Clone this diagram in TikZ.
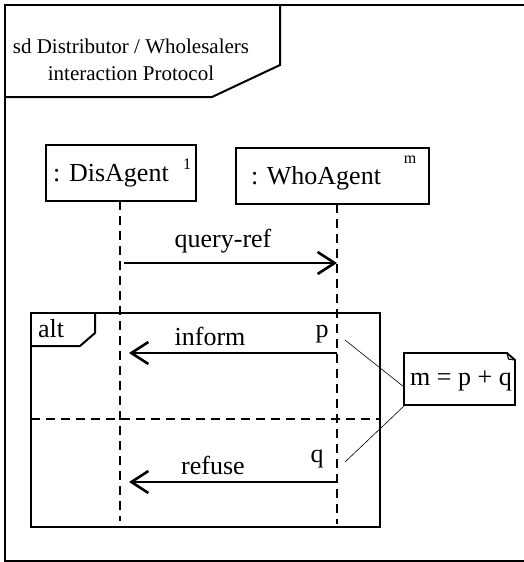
\documentclass[tikz,border=0pt]{standalone}
\usepackage{fontspec}
\setmainfont{Liberation Serif}
\usetikzlibrary{arrows.meta}
\begin{document}
\begin{tikzpicture}[x=1pt,y=-1pt,
  big/.style={font=\fontsize{26}{30}\selectfont, inner sep=0pt},
  small/.style={font=\fontsize{21}{27}\selectfont, inner sep=0pt, align=center},
  tiny/.style={font=\fontsize{16}{18}\selectfont, inner sep=0pt},
  framel/.style={line width=2pt, line join=miter},
  agentbox/.style={draw, line width=2pt, minimum height=56pt, inner sep=0pt},
  life/.style={line width=1.6pt, dash pattern=on 9pt off 6pt},
  msg/.style={line width=2.6pt, -{Straight Barb[length=17pt, width=22pt, line width=2.6pt]}},
  notelink/.style={line width=0.6pt}
]
\useasboundingbox (0,0) rectangle (524,562);
\clip (0,0) rectangle (524,562);

% outer frame
\draw[framel] (530,5) -- (5,5) -- (5,561) -- (530,561);
% title pentagon
\draw[framel] (5,97) -- (212,97) -- (280,65) -- (280,5);
\node[small] (title) at (131,60) {sd Distributor / Wholesalers\\interaction Protocol};

% lifeline heads
\node[agentbox, minimum width=150pt] (dis) at (121,173) {};
\node[big] (disl) at (111,176) {: DisAgent};
\node[tiny] (dism) at (187,164) {1};
\node[agentbox, minimum width=193pt] (who) at (332.5,175.5) {};
\node[big] (whol) at (316,178) {: WhoAgent};
\node[tiny] (whom) at (410,160) {m};

% lifelines
\coordinate (disTop) at (120,201);
\coordinate (disBot) at (120,521);
\coordinate (whoTop) at (337,204);
\coordinate (whoBot) at (337,524);
\draw[life] (disTop) -- (disBot);
\draw[life] (whoTop) -- (whoBot);

% query-ref
\coordinate (q1) at (124,263);
\coordinate (q2) at (337,263);
\draw[msg] (q1) -- (q2);
\node[big] (qlab) at (223,241) {query-ref};

% alt fragment
\draw[framel] (31,313) rectangle (380,527);
\draw[framel] (31,346) -- (80,346) -- (95,333) -- (95,313);
\node[big] (altl) at (51,329) {alt};
\draw[life] (31,419) -- (380,419);

% inform
\coordinate (i1) at (337,353);
\coordinate (i2) at (129,353);
\draw[msg] (i1) -- (i2);
\node[big] (ilab) at (210,336) {inform};
\node[big] (pl) at (322,334) {p};

% refuse
\coordinate (r1) at (337,482);
\coordinate (r2) at (129,482);
\draw[msg] (r1) -- (r2);
\node[big] (rlab) at (213,465) {refuse};
\node[big] (ql) at (317,459) {q};

% note
\draw[line width=1.8pt, line join=miter] (404,353) -- (507,353) -- (515,360) -- (515,405) -- (404,405) -- cycle;
\draw[line width=1.2pt] (507,353) -- (508.5,359) -- (515,360);
\node[big] (note) at (461,381) {m = p + q};
\coordinate (n1) at (404,387);
\coordinate (n2) at (404,406);
\coordinate (pa) at (345,340);
\coordinate (qa) at (345,462);
\draw[notelink] (pa) -- (n1);
\draw[notelink] (qa) -- (n2);
\end{tikzpicture}
\end{document}
